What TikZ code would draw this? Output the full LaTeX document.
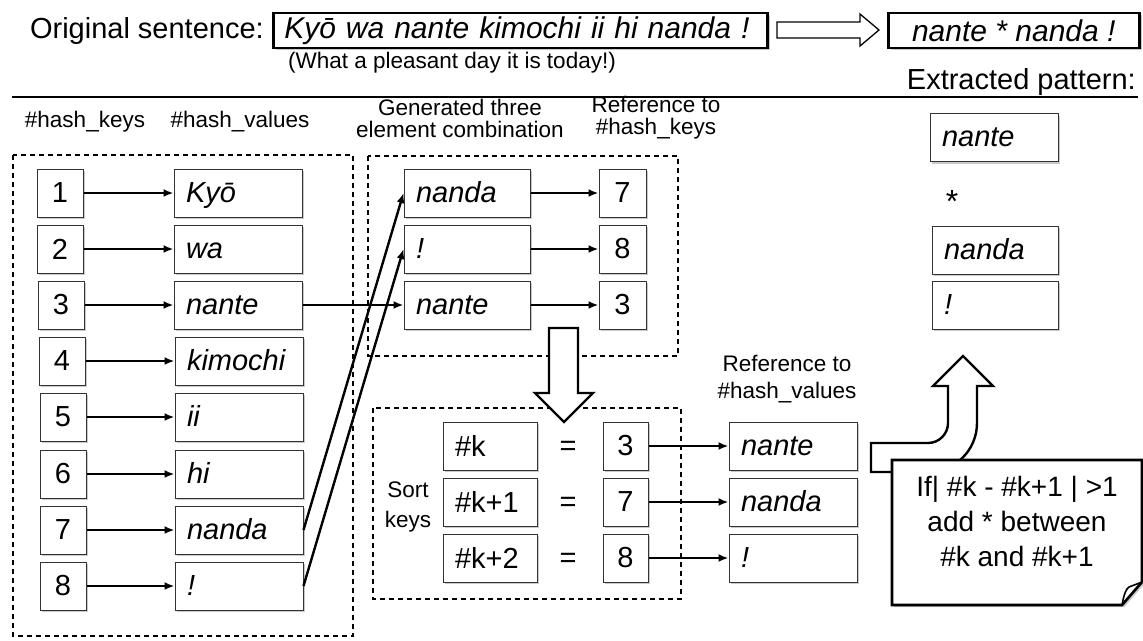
\documentclass[tikz,border=0pt]{standalone}
\usepackage{fontspec}
\setmainfont{Liberation Sans}
\usetikzlibrary{arrows.meta,shadows,calc}
\newcommand\fsz[2]{\fontsize{#1}{#2}\selectfont}

\begin{document}
\begin{tikzpicture}[x=1pt,y=-1pt,
  every node/.style={inner sep=0pt,font=\fsz{29}{34}},
  shade box/.style={drop shadow={shadow xshift=2.2pt,shadow yshift=-2.2pt,opacity=0.3,fill=black!70}},
  cell/.style={draw=black!80,line width=1pt,fill=white,minimum height=48pt,shade box},
  keybox/.style={cell,minimum width=46pt},
  valbox/.style={cell,text width=#1,inner xsep=12pt,align=left,text height=24pt,text depth=6pt,
                 font=\fsz{29}{34}\itshape},
  valbox/.default=104pt,
  caption/.style={font=\fsz{22.5}{26}},
  headline/.style={font=\fsz{22.5}{#1},align=center},
  headline/.default=22pt,
  dashbox/.style={draw=black,line width=1.2pt,dash pattern=on 5pt off 4pt},
  link/.style={line width=2.4pt,-{Latex[length=10pt,width=8pt]}},
  blockarrow/.style={draw=black,line width=2.4pt,fill=white,line join=miter},
  thickbox/.style={draw=black,line width=2.6pt,fill=white,shade box,minimum height=35pt}
]
\useasboundingbox (0,0) rectangle (1143,640);

% ---------- top row: sentence and extracted pattern ----------
\node[anchor=east] (orig) at (264,31) {Original sentence:};
\node[thickbox,anchor=west,minimum width=494pt,text width=472pt,inner xsep=11pt,align=left,
      font=\fsz{30}{34}\itshape] (sent) at (272,30.5) {Kyō wa nante kimochi ii hi nanda !};
\node[caption] (gloss) at (452,63) {(What a pleasant day it is today!)};
\node[thickbox,anchor=west,minimum width=251pt,font=\fsz{30}{34}\itshape] (pat) at (887,30.5) {nante * nanda !};
\node[anchor=east] (extr) at (1136,82) {Extracted pattern:};
\draw[blockarrow,line width=1.3pt] (777,22) -- (860,22) -- (860,14) -- (879,30) -- (860,46) -- (860,38) -- (777,38) -- cycle;
\draw[line width=1.4pt] (12,97) -- (1138,97);

% ---------- column headings ----------
\node[caption,anchor=base] (hk) at (85,127) {\#hash\_keys};
\node[caption,anchor=base] (hv) at (240,127) {\#hash\_values};
\node[headline] (gen) at (460,118) {Generated three\\element combination};
\node[headline] (rk) at (656,118) {Reference to\\\#hash\_keys};
\node[headline=27pt] (rv) at (787,379) {Reference to\\\#hash\_values};

% ---------- hash table ----------
\draw[dashbox] (13,155) rectangle (353,636);
\foreach \i/\kx/\vx/\y/\w in {1/60/238/193/Kyō,2/60/238/249/wa,3/61/238/305/nante,4/62/239/361/kimochi,
                              5/63/239/417/ii,6/63/239/474/hi,7/63/239/530/nanda,8/63/239/586/!}{
  \node[keybox] (k\i) at (\kx,\y) {\i};
  \node[valbox] (v\i) at (\vx,\y) {\w};
  \draw[link] (k\i) -- (v\i);
}

% ---------- generated combination ----------
\draw[dashbox] (368,156) rectangle (678,356);
\foreach \i/\y/\w/\n in {1/193/nanda/7,2/249/!/8,3/305/nante/3}{
  \node[valbox=102pt] (m\i) at (467,\y) {\w};
  \node[keybox,minimum width=47pt] (r\i) at (622.5,\y) {\n};
  \draw[link] (m\i) -- (r\i);
}
\draw[link] (v3.east) -- (m3.west);
\draw[link] (v7.east) -- (m1.west);
\draw[link] (v8.east) -- (m2.west);

% ---------- sorted keys ----------
\draw[dashbox] (373,408) rectangle (681,599);
\node[headline=30pt] (sortk) at (408,507) {Sort\\keys};
\foreach \i/\y/\k/\n/\w in {1/446/\#k/3/nante,2/502/\#k+1/7/nanda,3/558/\#k+2/8/!}{
  \node[cell,text width=70pt,inner xsep=12pt,align=left,text height=21pt,text depth=0pt] (s\i) at (490,\y) {\k};
  \node (e\i) at (568,\y+2) {=};
  \node[keybox,minimum width=45pt] (n\i) at (625.5,\y) {\n};
  \node[valbox] (w\i) at (793,\y) {\w};
  \draw[link] (n\i) -- (w\i);
}
\draw[blockarrow] (549,328) -- (578,328) -- (578,393) -- (593,393) -- (564,422) -- (535,393) -- (549,393) -- cycle;

% ---------- extracted pattern column ----------
\node[valbox] (p1) at (994,137.5) {nante};
\node (star) at (952,201) {\fsz{32}{34}*};
\node[valbox,text width=102pt] (p2) at (995,250) {nanda};
\node[valbox,text width=102pt] (p3) at (995,305) {!};

% ---------- rule note with bent arrow ----------
\draw[blockarrow] (871,472) -- (871,443) -- (928,443) arc[start angle=90,end angle=0,radius=20]
  -- (948,386) -- (933,386) -- (963,356) -- (993,386) -- (977,386) -- (977,423)
  arc[start angle=0,end angle=90,radius=49] -- cycle;
\draw[line width=2.6pt,fill=white,line join=miter,shade box]
  (892,460) -- (1142,460) -- (1142,582) -- (1122,605) -- (892,605) -- cycle;
\draw[line width=1.6pt] (1122,605) .. controls (1124,594) and (1126,589) .. (1129,587) -- (1142,582);
\node[align=center,font=\fsz{28}{35}] (cond) at (1017,521) {If| \#k - \#k+1 | >1\\add * between\\\#k and \#k+1};
\end{tikzpicture}
\end{document}
